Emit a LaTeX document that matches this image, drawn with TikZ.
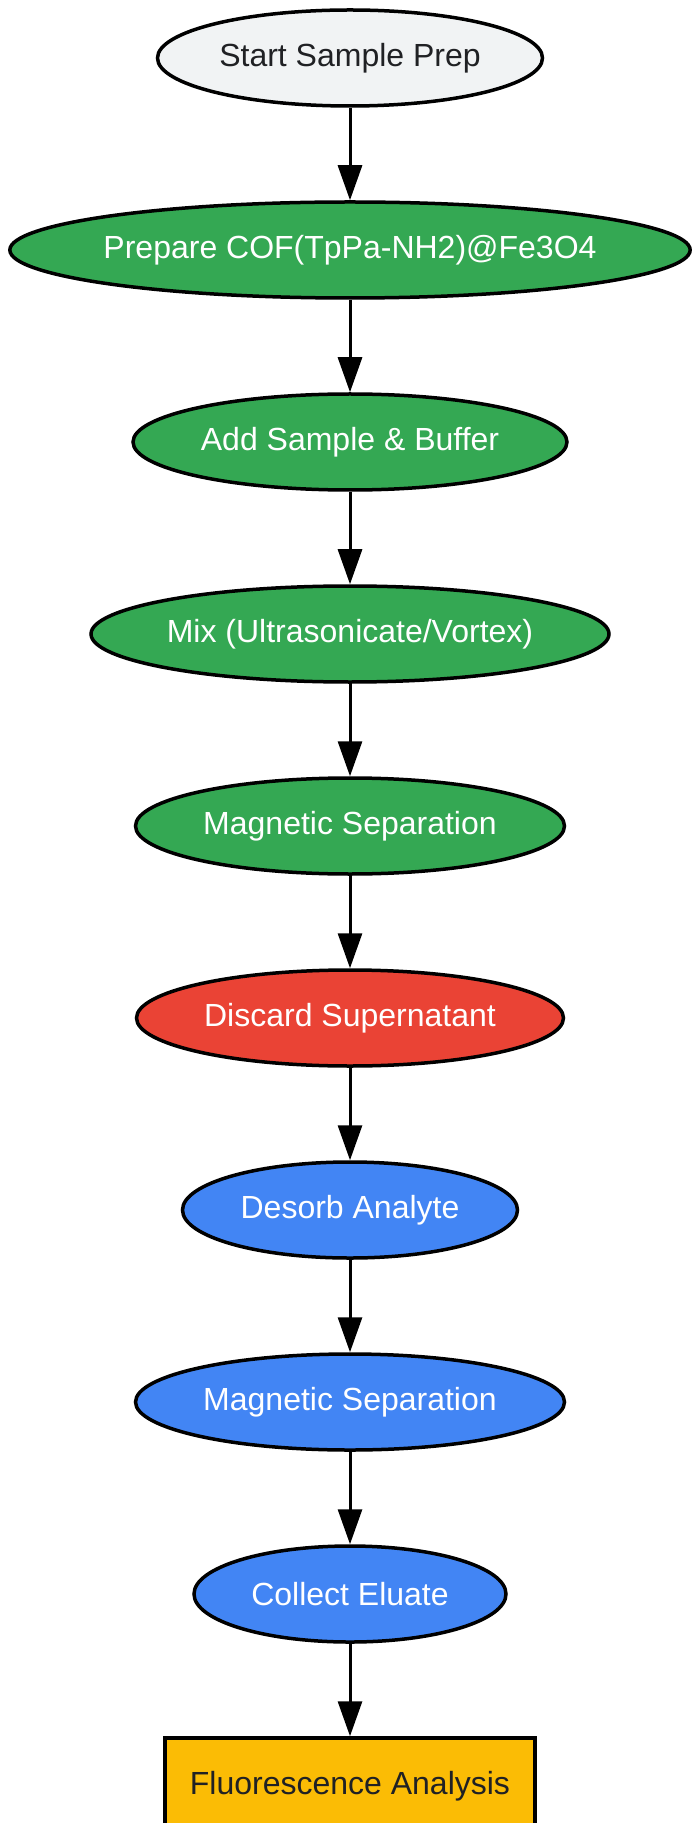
\documentclass[tikz,border=0pt]{standalone}
\usepackage{fontspec}
\setmainfont{Liberation Sans}
\usepackage{tikz}
\usetikzlibrary{arrows.meta,positioning,shapes.geometric}
\definecolor{startgrey}{HTML}{F1F3F4}
\definecolor{stepgreen}{HTML}{34A853}
\definecolor{stepred}{HTML}{EA4335}
\definecolor{stepblue}{HTML}{4285F4}
\definecolor{stepyellow}{HTML}{FBBC05}
\definecolor{darktext}{HTML}{202124}
\tikzstyle{proc}=[draw, ellipse, line width=1.75pt, minimum height=48pt, inner xsep=-3pt, inner ysep=0pt, align=center]
\tikzstyle{startproc}=[proc, fill=startgrey, text=darktext]
\tikzstyle{greenproc}=[proc, fill=stepgreen, text=white]
\tikzstyle{redproc}=[proc, fill=stepred, text=white]
\tikzstyle{blueproc}=[proc, fill=stepblue, text=white]
\tikzstyle{result}=[draw, rectangle, line width=1.75pt, fill=stepyellow, text=darktext, minimum width=185pt, minimum height=48pt]

\begin{document}
\begin{tikzpicture}[node distance=96pt,>={Triangle[length=17.5pt,width=12pt]},font=\fontsize{16}{19}\selectfont]
        \useasboundingbox (0,0) rectangle (345.5pt,-911.5pt);
        \node [startproc, minimum width=192.5pt] (a) at (175pt,-29pt) {Start Sample Prep};
        \node [greenproc, minimum width=340pt] (b) [below of=a] {Prepare COF(TpPa-NH2)@Fe3O4};
        \node [greenproc, minimum width=217pt] (c) [below of=b] {Add Sample \& Buffer};
        \node [greenproc, minimum width=259pt] (d) [below of=c] {Mix (Ultrasonicate/Vortex)};
        \node [greenproc, minimum width=214.5pt] (e) [below of=d] {Magnetic Separation};
        \node [redproc, minimum width=213.5pt] (f) [below of=e] {Discard Supernatant};
        \node [blueproc, minimum width=167.5pt] (g) [below of=f] {Desorb Analyte};
        \node [blueproc, minimum width=214.5pt] (h) [below of=g] {Magnetic Separation};
        \node [blueproc, minimum width=156pt] (i) [below of=h] {Collect Eluate};
        \node [result] (j) [below of=i,node distance=96pt] {Fluorescence Analysis};
        \path[->,line width=1.5pt] 
        (a) edge node {} (b)
        (b) edge node {} (c)
        (c) edge node {} (d)
        (d) edge node {} (e)
        (e) edge node {} (f)
        (f) edge node {} (g)
        (g) edge node {} (h)
        (h) edge node {} (i)
        (i) edge node {} (j);
    \end{tikzpicture}
\end{document}
